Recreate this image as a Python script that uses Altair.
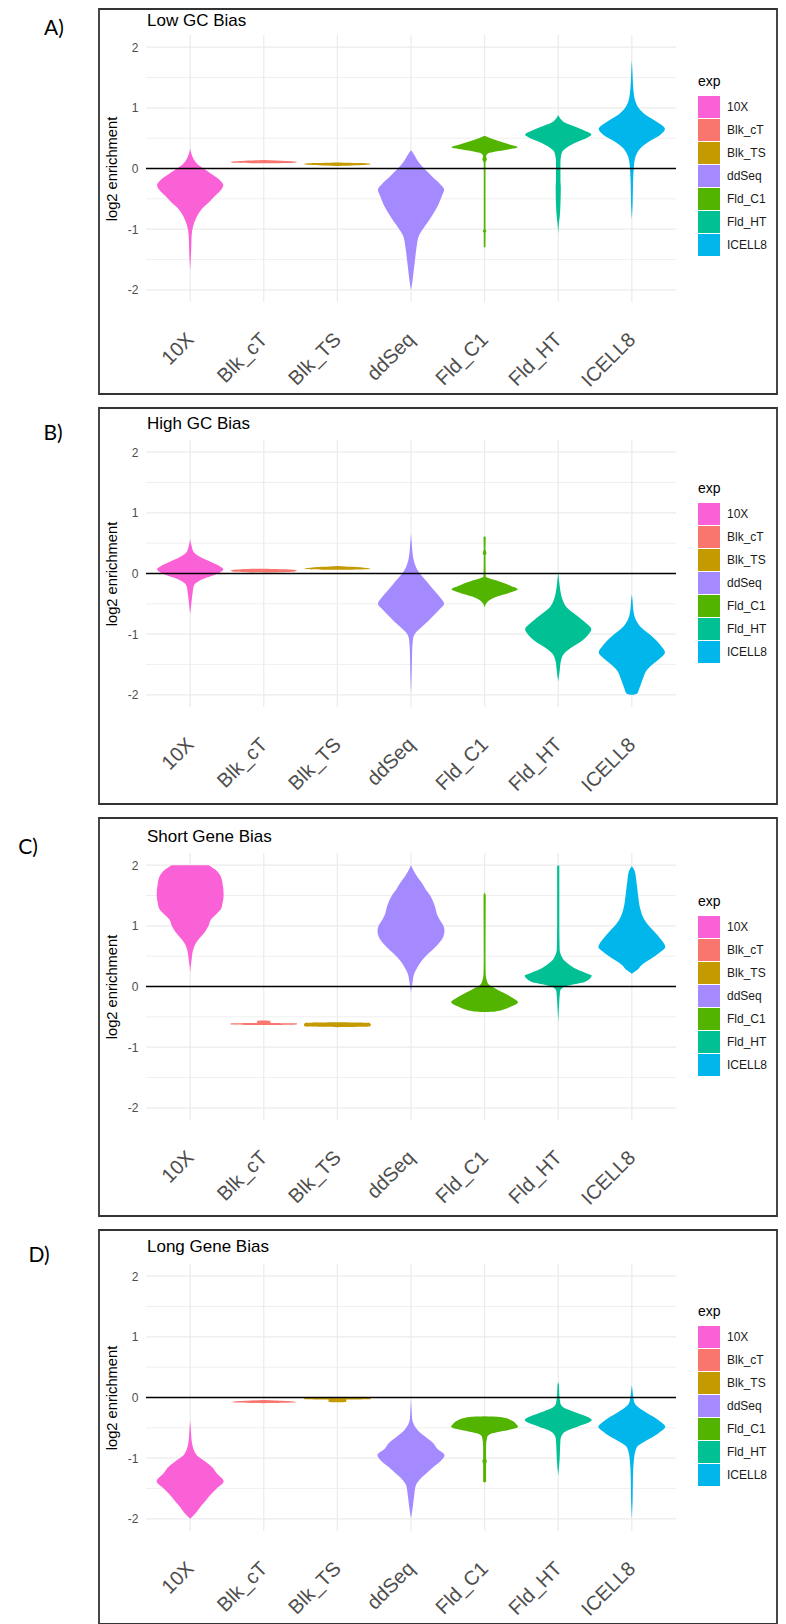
import altair as alt
import pandas as pd

CATEGORIES = ["10X", "Blk_cT", "Blk_TS", "ddSeq", "Fld_C1", "Fld_HT", "ICELL8"]
COLORS = ["#FB61D7", "#F8766D", "#C49A00", "#A58AFF", "#53B400", "#00C094", "#00B6EB"]
PANEL_TITLES = ["Low GC Bias", "High GC Bias", "Short Gene Bias", "Long Gene Bias"]
PANEL_LETTERS = ["A)", "B)", "C)", "D)"]
Y_TICKS = [-2, -1, 0, 1, 2]
Y_MINOR = [-1.5, -0.5, 0.5, 1.5]
Y_DOMAIN = [-2.2, 2.2]
X_DOMAIN = [-0.6, 6.6]
REF_LINE = [0]

# violin outlines: [log2 enrichment, half width (category units)]
LOW_GC = {
    "10X": [[0.33, 0], [0.25, 0.015], [0.15, 0.05], [0.05, 0.12], [0.0, 0.18], [-0.1, 0.3], [-0.2, 0.41],
            [-0.27, 0.45], [-0.35, 0.42], [-0.45, 0.34], [-0.55, 0.26], [-0.65, 0.17], [-0.75, 0.11],
            [-0.85, 0.07], [-0.95, 0.04], [-1.1, 0.02], [-1.3, 0.015], [-1.68, 0]],
    "Blk_cT": [[0.085, 0], [0.095, 0.42], [0.11, 0.45], [0.125, 0.3], [0.14, 0]],
    "Blk_TS": [[0.04, 0], [0.06, 0.4], [0.075, 0.45], [0.09, 0.3], [0.1, 0]],
    "ddSeq": [[0.3, 0], [0.25, 0.03], [0.15, 0.08], [0.05, 0.14], [-0.05, 0.22], [-0.15, 0.3], [-0.25, 0.39],
              [-0.35, 0.45], [-0.45, 0.42], [-0.6, 0.37], [-0.75, 0.3], [-0.9, 0.22], [-1.0, 0.16],
              [-1.1, 0.11], [-1.3, 0.075], [-1.5, 0.055], [-1.7, 0.035], [-1.9, 0.015], [-2.0, 0]],
    "Fld_C1": [[0.54, 0], [0.5, 0.08], [0.45, 0.2], [0.4, 0.33], [0.35, 0.45], [0.32, 0.35], [0.28, 0.15],
               [0.25, 0.05], [0.2, 0.02], [0.15, 0.03], [0.1, 0.012], [-1.0, 0.012], [-1.03, 0.025],
               [-1.06, 0.012], [-1.29, 0.012], [-1.3, 0]],
    "Fld_HT": [[0.88, 0], [0.82, 0.03], [0.75, 0.1], [0.68, 0.25], [0.6, 0.4], [0.56, 0.45], [0.5, 0.38],
               [0.45, 0.28], [0.38, 0.16], [0.3, 0.07], [0.22, 0.04], [0.1, 0.03], [-0.2, 0.03],
               [-0.3, 0.035], [-0.6, 0.03], [-0.8, 0.02], [-0.9, 0.01], [-1.08, 0]],
    "ICELL8": [[1.79, 0], [1.6, 0.008], [1.4, 0.015], [1.25, 0.025], [1.1, 0.05], [1.0, 0.09], [0.9, 0.17],
               [0.8, 0.3], [0.72, 0.4], [0.65, 0.45], [0.55, 0.38], [0.45, 0.24], [0.35, 0.13], [0.25, 0.07],
               [0.15, 0.04], [0.0, 0.025], [-0.3, 0.015], [-0.6, 0.01], [-0.84, 0]],
}

HIGH_GC = {
    "10X": [[0.57, 0], [0.45, 0.02], [0.35, 0.05], [0.25, 0.17], [0.18, 0.3], [0.12, 0.4], [0.07, 0.45],
            [0.02, 0.41], [-0.03, 0.32], [-0.08, 0.2], [-0.13, 0.11], [-0.2, 0.05], [-0.3, 0.035],
            [-0.45, 0.02], [-0.67, 0]],
    "Blk_cT": [[0.015, 0], [0.03, 0.4], [0.05, 0.45], [0.07, 0.3], [0.08, 0]],
    "Blk_TS": [[0.06, 0], [0.075, 0.45], [0.09, 0.4], [0.11, 0.2], [0.125, 0]],
    "ddSeq": [[0.66, 0], [0.5, 0.01], [0.35, 0.02], [0.2, 0.04], [0.1, 0.07], [0.0, 0.12], [-0.1, 0.19],
              [-0.2, 0.26], [-0.3, 0.33], [-0.4, 0.4], [-0.5, 0.45], [-0.6, 0.38], [-0.7, 0.3], [-0.8, 0.22],
              [-0.9, 0.13], [-1.0, 0.05], [-1.1, 0.025], [-1.3, 0.015], [-1.6, 0.01], [-1.98, 0]],
    "Fld_C1": [[0.61, 0], [0.6, 0.015], [0.4, 0.012], [0.33, 0.025], [0.3, 0.012], [-0.05, 0.015],
               [-0.08, 0.06], [-0.13, 0.2], [-0.2, 0.35], [-0.26, 0.45], [-0.32, 0.33], [-0.38, 0.17],
               [-0.43, 0.08], [-0.48, 0.03], [-0.56, 0]],
    "Fld_HT": [[0.03, 0], [-0.1, 0.01], [-0.25, 0.025], [-0.4, 0.05], [-0.55, 0.11], [-0.7, 0.26],
               [-0.82, 0.38], [-0.92, 0.45], [-1.02, 0.4], [-1.12, 0.31], [-1.22, 0.18], [-1.32, 0.08],
               [-1.45, 0.035], [-1.6, 0.02], [-1.78, 0]],
    "ICELL8": [[-0.34, 0], [-0.45, 0.01], [-0.6, 0.02], [-0.75, 0.05], [-0.88, 0.12], [-1.0, 0.24],
               [-1.1, 0.33], [-1.2, 0.4], [-1.3, 0.45], [-1.4, 0.38], [-1.5, 0.28], [-1.6, 0.2],
               [-1.7, 0.16], [-1.8, 0.13], [-1.9, 0.1], [-1.98, 0.07], [-2.0, 0]],
}

SHORT_GENE = {
    "10X": [[2.0, 0.25], [1.93, 0.34], [1.85, 0.4], [1.7, 0.44], [1.5, 0.455], [1.38, 0.44], [1.28, 0.42],
            [1.2, 0.36], [1.1, 0.28], [1.0, 0.25], [0.9, 0.2], [0.8, 0.13], [0.7, 0.07], [0.6, 0.04],
            [0.45, 0.02], [0.24, 0]],
    "Blk_cT": [[-0.635, 0], [-0.625, 0.45], [-0.605, 0.45], [-0.6, 0.09], [-0.565, 0.09], [-0.56, 0]],
    "Blk_TS": [[-0.67, 0], [-0.66, 0.44], [-0.63, 0.455], [-0.6, 0.44], [-0.59, 0]],
    "ddSeq": [[2.0, 0], [1.9, 0.04], [1.8, 0.09], [1.7, 0.15], [1.6, 0.2], [1.5, 0.26], [1.4, 0.3],
              [1.3, 0.33], [1.2, 0.35], [1.1, 0.39], [1.0, 0.44], [0.92, 0.455], [0.8, 0.43], [0.7, 0.37],
              [0.6, 0.29], [0.5, 0.2], [0.4, 0.13], [0.3, 0.08], [0.2, 0.04], [0.1, 0.025], [-0.09, 0]],
    "Fld_C1": [[1.55, 0], [1.5, 0.015], [0.5, 0.012], [0.2, 0.015], [0.1, 0.03], [0.03, 0.06],
               [-0.03, 0.14], [-0.1, 0.25], [-0.18, 0.37], [-0.26, 0.455], [-0.33, 0.36], [-0.38, 0.26],
               [-0.41, 0.15], [-0.42, 0]],
    "Fld_HT": [[2.0, 0], [1.98, 0.015], [1.0, 0.015], [0.6, 0.02], [0.5, 0.045], [0.42, 0.09], [0.35, 0.16],
               [0.28, 0.26], [0.22, 0.38], [0.18, 0.455], [0.12, 0.42], [0.06, 0.32], [0.02, 0.16],
               [-0.02, 0.06], [-0.08, 0.025], [-0.3, 0.012], [-0.59, 0]],
    "ICELL8": [[1.98, 0], [1.9, 0.04], [1.75, 0.06], [1.5, 0.085], [1.3, 0.11], [1.15, 0.15], [1.0, 0.23],
               [0.9, 0.31], [0.8, 0.38], [0.7, 0.44], [0.65, 0.455], [0.58, 0.4], [0.5, 0.31], [0.42, 0.21],
               [0.35, 0.13], [0.28, 0.08], [0.21, 0]],
}

LONG_GENE = {
    "10X": [[-0.38, 0], [-0.5, 0.008], [-0.65, 0.015], [-0.75, 0.025], [-0.85, 0.045], [-0.95, 0.09],
            [-1.05, 0.2], [-1.15, 0.3], [-1.25, 0.36], [-1.38, 0.455], [-1.5, 0.36], [-1.6, 0.28],
            [-1.7, 0.21], [-1.8, 0.14], [-1.9, 0.08], [-2.0, 0]],
    "Blk_cT": [[-0.095, 0], [-0.08, 0.45], [-0.065, 0.4], [-0.05, 0.15], [-0.04, 0]],
    "Blk_TS": [[-0.08, 0], [-0.075, 0.12], [-0.035, 0.12], [-0.03, 0.45], [-0.01, 0.45], [0.0, 0]],
    "ddSeq": [[-0.02, 0], [-0.2, 0.008], [-0.35, 0.015], [-0.45, 0.04], [-0.55, 0.1], [-0.65, 0.2],
              [-0.75, 0.3], [-0.85, 0.36], [-0.95, 0.455], [-1.05, 0.4], [-1.15, 0.3], [-1.25, 0.21],
              [-1.35, 0.12], [-1.45, 0.065], [-1.6, 0.045], [-1.8, 0.025], [-1.99, 0]],
    "Fld_C1": [[-0.31, 0], [-0.315, 0.1], [-0.33, 0.25], [-0.38, 0.37], [-0.44, 0.43], [-0.48, 0.455],
               [-0.52, 0.38], [-0.56, 0.22], [-0.6, 0.08], [-0.65, 0.035], [-0.8, 0.02], [-1.0, 0.02],
               [-1.05, 0.03], [-1.1, 0.02], [-1.39, 0.02], [-1.4, 0]],
    "Fld_HT": [[0.25, 0], [0.2, 0.01], [0.05, 0.015], [-0.1, 0.03], [-0.17, 0.08], [-0.23, 0.2],
               [-0.3, 0.36], [-0.37, 0.455], [-0.43, 0.38], [-0.48, 0.26], [-0.54, 0.13], [-0.6, 0.06],
               [-0.7, 0.03], [-1.0, 0.02], [-1.29, 0]],
    "ICELL8": [[0.21, 0], [0.1, 0.01], [0.0, 0.02], [-0.1, 0.04], [-0.18, 0.11], [-0.25, 0.2], [-0.32, 0.3],
               [-0.4, 0.39], [-0.48, 0.455], [-0.56, 0.39], [-0.64, 0.3], [-0.72, 0.18], [-0.8, 0.08],
               [-0.9, 0.045], [-1.0, 0.03], [-1.3, 0.015], [-1.7, 0.01], [-2.0, 0]],
}

PANEL_DATA = [LOW_GC, HIGH_GC, SHORT_GENE, LONG_GENE]

# layout (pixels, relative to each framed panel)
BOX_W = 678
PLOT_X = [47, 577]
PLOT_H = 267
LAYOUT = [  # plot top, box height, title y, legend y, letter x, letter y
    dict(top=26, H=385, title_y=12, legend_y=66, letter_x=-45, letter_y=20),
    dict(top=32, H=396, title_y=15.5, legend_y=74, letter_x=-46, letter_y=25.5),
    dict(top=35, H=398, title_y=18.5, legend_y=77, letter_x=-71, letter_y=29.5),
    dict(top=34, H=394, title_y=17, legend_y=75, letter_x=-60, letter_y=26),
]
FONT = "Liberation Sans"


def violin_frame(profiles):
    rows = []
    for i, cat in enumerate(CATEGORIES):
        for y, w in sorted(profiles[cat]):
            rows.append({"exp": cat, "val": y, "lo": i - w, "hi": i + w})
    return pd.DataFrame(rows)


x_label_expr = "[" + ",".join("'" + c + "'" for c in CATEGORIES) + "][datum.value]"
y_label_expr = "datum.value < 0 ? '-' + abs(datum.value) : '' + datum.value"


def panel(k):
    lay = LAYOUT[k]
    top = lay["top"]
    bottom = top + PLOT_H
    H = lay["H"]
    xs = alt.Scale(domain=X_DOMAIN, range=PLOT_X, zero=False, nice=False)
    ys = alt.Scale(domain=Y_DOMAIN, range=[bottom, top], zero=False, nice=False)
    xaxis = alt.Axis(values=list(range(len(CATEGORIES))), labelExpr=x_label_expr, title=None,
                     domain=False, ticks=False, tickSize=0, grid=False, labelAngle=315,
                     labelAlign="right", labelBaseline="top", labelPadding=27, labelOffset=-7,
                     labelFontSize=20, labelColor="#4D4D4D", labelFont=FONT, labelFlush=False,
                     labelOverlap=False, labelBound=False, offset=-(H - bottom))
    yaxis = alt.Axis(values=Y_TICKS, labelExpr=y_label_expr, title="log2 enrichment", domain=False,
                     ticks=False, tickSize=0, grid=False, labelPadding=8, labelFontSize=12,
                     labelColor="#4D4D4D", labelFont=FONT, labelFlush=False, labelOverlap=False,
                     offset=-PLOT_X[0], titleFontSize=14.7, titleFontWeight="normal", titleColor="#000000",
                     titleFont=FONT, titleX=-27, titleY=(top + bottom) / 2, titleAngle=270,
                     titleBaseline="bottom", titleAlign="center")

    minor = alt.Chart(pd.DataFrame({"y": Y_MINOR, "x0": X_DOMAIN[0], "x1": X_DOMAIN[1]})).mark_rule(
        color="#EBEBEB", strokeWidth=0.8).encode(
        y=alt.Y("y:Q", scale=ys, axis=yaxis), x=alt.X("x0:Q", scale=xs, axis=xaxis), x2="x1:Q")
    major = alt.Chart(pd.DataFrame({"y": Y_TICKS, "x0": X_DOMAIN[0], "x1": X_DOMAIN[1]})).mark_rule(
        color="#EBEBEB", strokeWidth=1.2).encode(
        y=alt.Y("y:Q", scale=ys, axis=yaxis), x=alt.X("x0:Q", scale=xs, axis=xaxis), x2="x1:Q")
    vert = alt.Chart(pd.DataFrame({"x": list(range(len(CATEGORIES))), "y0": Y_DOMAIN[0],
                                   "y1": Y_DOMAIN[1]})).mark_rule(color="#EBEBEB", strokeWidth=1.2).encode(
        x=alt.X("x:Q", scale=xs, axis=xaxis), y=alt.Y("y0:Q", scale=ys, axis=yaxis), y2="y1:Q")

    vio = alt.Chart(violin_frame(PANEL_DATA[k])).mark_area(
        orient="horizontal", interpolate="monotone").encode(
        y=alt.Y("val:Q", scale=ys, axis=yaxis),
        x=alt.X("lo:Q", scale=xs, axis=xaxis, stack=None),
        x2="hi:Q",
        color=alt.Color("exp:N", scale=alt.Scale(domain=CATEGORIES, range=COLORS),
                        legend=alt.Legend(title="exp", orient="none", legendX=599, legendY=lay["legend_y"],
                                          symbolType="square", symbolSize=484, symbolStrokeWidth=0,
                                          symbolOpacity=1, rowPadding=1, labelOffset=7,
                                          labelFontSize=12, labelFont=FONT, labelColor="#1A1A1A",
                                          titleFontSize=14, titleFont=FONT, titleFontWeight="normal",
                                          titleColor="#000000", titlePadding=7)),
    )

    zero = alt.Chart(pd.DataFrame({"y": REF_LINE, "x0": X_DOMAIN[0], "x1": X_DOMAIN[1]})).mark_rule(
        color="#000000", strokeWidth=1.6).encode(
        y=alt.Y("y:Q", scale=ys, axis=yaxis), x=alt.X("x0:Q", scale=xs, axis=xaxis), x2="x1:Q")

    title = alt.Chart(pd.DataFrame({"t": [PANEL_TITLES[k]]})).mark_text(
        font=FONT, fontSize=17, align="left", baseline="middle", color="#000000").encode(
        text="t:N", x=alt.value(48), y=alt.value(lay["title_y"]))
    letter = alt.Chart(pd.DataFrame({"t": [PANEL_LETTERS[k]]})).mark_text(
        font="Lato", fontSize=21, align="center", baseline="middle", color="#000000").encode(
        text="t:N", x=alt.value(lay["letter_x"]), y=alt.value(lay["letter_y"]))

    return alt.layer(minor, major, vert, vio, zero, title, letter).properties(width=BOX_W, height=H)


chart = alt.vconcat(*[panel(k) for k in range(4)], spacing=12).resolve_scale(
    x="independent", y="independent", color="independent").resolve_axis(
    x="independent", y="independent").resolve_legend(color="independent").configure_view(
    stroke="#333333", strokeWidth=1.8).properties(
    padding={"left": 9, "top": 0, "right": 0, "bottom": 0}, background="white")

chart.save("out.html", embed_options={"renderer": "svg", "actions": False})
